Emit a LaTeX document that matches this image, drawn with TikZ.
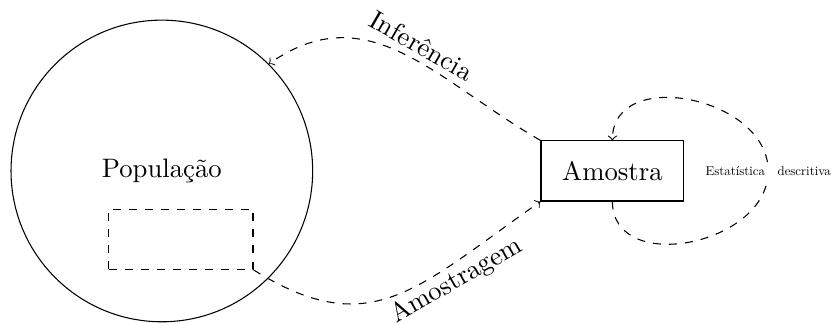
\documentclass[tikz,border=0pt]{standalone}
\usepackage{tikz}
\usetikzlibrary{positioning}

\begin{document}
\begin{tikzpicture}[pops/.style={circle,draw,minimum size=3.97cm,inner sep=0pt},amos/.style={draw,minimum width=1.88cm,minimum height=0.79cm},subs/.style={draw,dashed,minimum width=1.9cm,minimum height=0.79cm},flow/.style={->,dashed}]
\useasboundingbox (0,0) rectangle (10.95,4.24);
\node (pop) [pops] at (2.13,1.99) {População};
\node (amo) [amos,right of=pop,node distance=5.93cm] {Amostra};
\node (sub) [subs] at (2.38,1.09) {};
\coordinate [right of=amo,node distance=2.05cm] (desc);
\draw[flow] (amo.north west) to[out=150,in=35,looseness=1.1] (pop.45);
\draw[flow] (sub.south east) to[out=-32,in=-145,out looseness=1.2,in looseness=1.3] (amo.south west);
\draw[flow] (amo.south) to[out=-90,in=-90,looseness=1.2] (desc) to[out=90,in=90,looseness=1.2] (amo.north);
\node (inf) [rotate=-30] at (5.55,3.64) {Inferência};
\node (amg) [rotate=30] at (6.01,0.54) {Amostragem};
\node (est) [fill=white,inner sep=2pt,scale=0.48,transform shape] at (desc) {Estatística\hspace{6.5pt} descritiva};
\end{tikzpicture}
\end{document}
